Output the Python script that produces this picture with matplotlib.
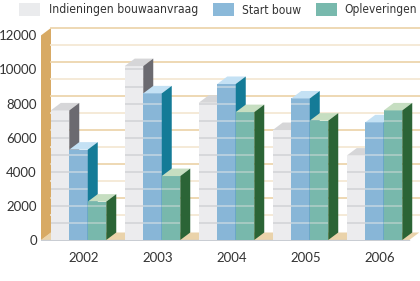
import matplotlib
matplotlib.use("Agg")
import matplotlib.pyplot as plt
from matplotlib.patches import Polygon, Rectangle
from matplotlib import font_manager

years = ["2002", "2003", "2004", "2005", "2006"]
series_names = ["Indieningen bouwaanvraag", "Start bouw", "Opleveringen"]
indieningen = [7600, 10200, 8050, 6450, 4950]
start_bouw = [5300, 8600, 9150, 8300, 6900]
opleveringen = [2250, 3750, 7500, 7000, 7600]
y_ticks = [0, 2000, 4000, 6000, 8000, 10000, 12000]

# front, top, side, stripe
colors = [
    ("#ECECEE", "#D6D6D8", "#6B6A70", "#D3D4D8"),
    ("#88B6D7", "#C4E1F4", "#147B97", "#BFD3E1"),
    ("#78B8AC", "#C6DEC1", "#2B6436", "#AECDC6"),
]
legend_colors = ["#EAEBED", "#8BB9D9", "#78B9AD"]

W, H = 420, 281
bar_w = 0.25
dx = 0.135          # depth offset in category units
dy = 440            # depth offset in value units
wall_left = -0.507
x_right = 4.47
y_top = 12000

# look for a narrow face for the legend, else fall back to Lato
legend_fp = font_manager.FontProperties(family="Lato")
for f in font_manager.fontManager.ttflist:
    if ("Narrow" in f.name or "Condensed" in f.name or f.stretch in ("condensed", "semi-condensed")) \
            and "Bold" not in f.fname and "Oblique" not in f.fname and "Italic" not in f.fname:
        legend_fp = font_manager.FontProperties(fname=f.fname)
        break
tick_font = "Lato"

fig = plt.figure(figsize=(W / 100, H / 100), dpi=100)
ax = fig.add_axes([41 / W, (H - 241) / H, 1 - 41 / W, 241 / H])
ax.set_xlim(wall_left, (420 - 78.5) / 74)
ax.set_ylim(-1000 / 17.05, 240 / 17.05 * 1000)
for s in ax.spines.values():
    s.set_visible(False)

# floor and left wall
ax.add_patch(Polygon([(wall_left, 0), (x_right, 0), (x_right + dx, dy), (wall_left + dx, dy)],
                     fc="#EAD3AB", ec="none", zorder=0))
ax.add_patch(Polygon([(wall_left, 0), (wall_left + dx, dy), (wall_left + dx, y_top + dy), (wall_left, y_top)],
                     fc="#D8AA64", ec="none", zorder=0.5))
ax.plot([wall_left, x_right], [0, 0], color="#C9CDD3", lw=1, zorder=0.6)

# back wall grid
for v in range(1000, y_top + 1, 1000):
    c = "#EDD6AE" if v % 2000 == 0 else "#F4E8D4"
    ax.plot([wall_left + dx, ax.get_xlim()[1]], [v + dy, v + dy], color=c, lw=1.3, zorder=1)

data = [indieningen, start_bouw, opleveringen]
z = 2
for i in range(len(years)):
    for k, vals in enumerate(data):
        h = vals[i]
        front_c, top_c, side_c, stripe_c = colors[k]
        x0 = i - 1.5 * bar_w + k * bar_w
        ax.add_patch(Rectangle((x0, 0), bar_w, h, fc=front_c, ec="none", zorder=z))
        for v in range(1000, h, 1000):
            ax.plot([x0, x0 + bar_w], [v, v], color=stripe_c, lw=1.2, zorder=z + 0.1,
                    solid_capstyle="butt")
        ax.add_patch(Polygon([(x0, h), (x0 + bar_w, h), (x0 + bar_w + dx, h + dy), (x0 + dx, h + dy)],
                             fc=top_c, ec="none", zorder=z + 0.2))
        ax.add_patch(Polygon([(x0 + bar_w, 0), (x0 + bar_w + dx, dy), (x0 + bar_w + dx, h + dy), (x0 + bar_w, h)],
                             fc=side_c, ec="none", zorder=z + 0.2))
        z += 1

ax.set_yticks(y_ticks)
ax.set_yticklabels([str(t) for t in y_ticks])
ax.set_xticks([i + dx / 2 for i in range(len(years))])
ax.set_xticklabels(years)
ax.tick_params(axis="both", length=0, labelsize=9.5, colors="#333333")
ax.tick_params(axis="y", pad=3)
ax.tick_params(axis="x", pad=8)
for lab in ax.get_xticklabels() + ax.get_yticklabels():
    lab.set_fontfamily(tick_font)
    lab.set_color("#333333")

# legend, each label shrunk to the width it has in the original
sw_x = [19, 213, 316]
tx_x = [49, 242, 344]
tx_w = [150, 59, 72]
renderer = fig.canvas.get_renderer()
for k, name in enumerate(series_names):
    fig.add_artist(Rectangle((sw_x[k] / W, 1 - 16 / H), 21 / W, 13 / H,
                             transform=fig.transFigure, fc=legend_colors[k], ec="none"))
    t = fig.text(tx_x[k] / W, 1 - 10 / H, name, fontsize=11, fontproperties=legend_fp,
                 color="#333333", va="center", ha="left")
    t.set_fontsize(11)
    w = t.get_window_extent(renderer).width
    t.set_fontsize(min(11, 11 * tx_w[k] / w))

fig.savefig("out.png", dpi=100)
